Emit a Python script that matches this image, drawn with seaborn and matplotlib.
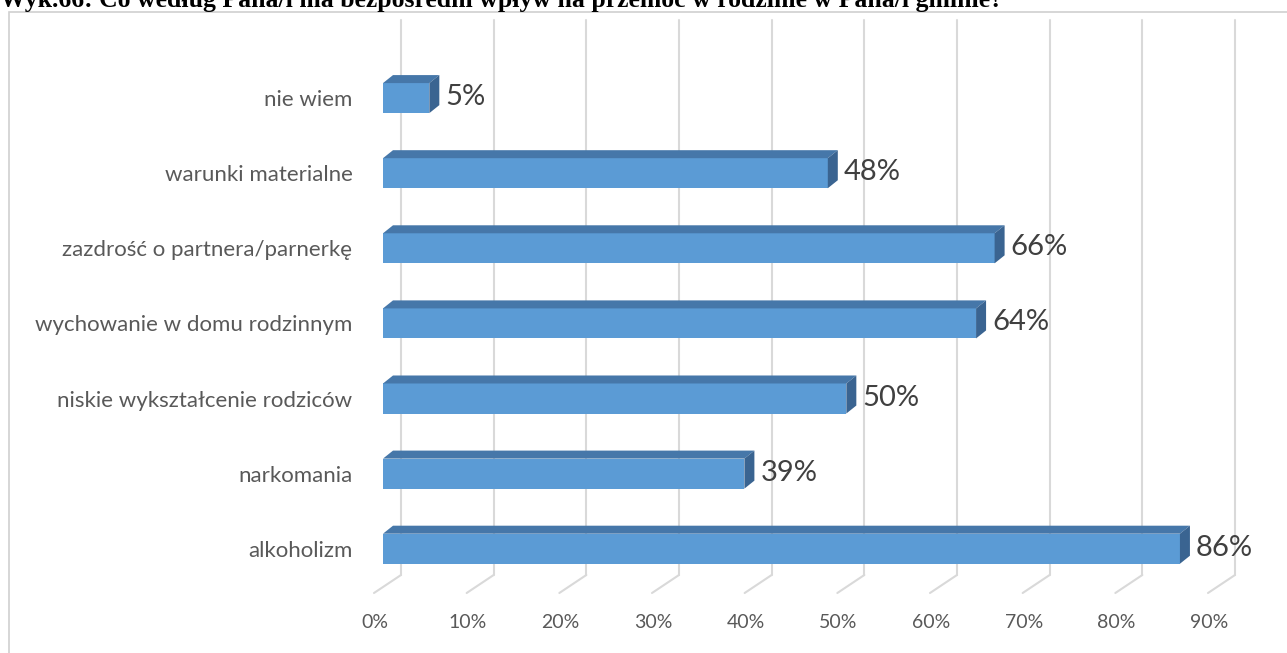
import matplotlib
matplotlib.use("Agg")
import matplotlib.pyplot as plt
import matplotlib.transforms as mtransforms
from matplotlib.patches import Polygon, Rectangle
import pandas as pd
import seaborn as sns

# chart data
categories = ["nie wiem", "warunki materialne", "zazdrość o partnera/parnerkę",
              "wychowanie w domu rodzinnym", "niskie wykształcenie rodziców",
              "narkomania", "alkoholizm"]
values = [5, 48, 66, 64, 50, 39, 86]
ticks = [0, 10, 20, 30, 40, 50, 60, 70, 80, 90]
tick_labels = [f"{t}%" for t in ticks]
title = "Wyk.66: Co według Pana/i ma bezpośredni wpływ na przemoc w rodzinie w Pana/i gminie?"

FRONT = "#5B9BD5"
TOP = "#4677A9"
SIDE = "#3A6491"
GRID = "#D9D9D9"

sns.set_style("white")
plt.rcParams["font.family"] = ["Lato", "DejaVu Sans"]

W, H = 1287, 653
fig = plt.figure(figsize=(W / 100, H / 100), dpi=100)

# outer chart border and title (title is clipped at the top edge)
fig.patches.append(Rectangle((9 / W, -0.05), 1.05, 1.05 - 12 / H,
                             transform=fig.transFigure, fill=False,
                             edgecolor="#D0D0D0", linewidth=1.2))
fig.text(0.0, 1 - 6.5 / H, title, family="Liberation Serif", weight="bold",
         fontsize=18.5, color="black", ha="left", va="baseline")

# plot area: x from 0% at px 383 to 90% at px 1217, y from px 20 to 575
ax = fig.add_axes([383 / W, 1 - 575 / H, (1217 - 383) / W, (575 - 20) / H])
df = pd.DataFrame({"cat": categories, "val": values})
sns.barplot(data=df, x="val", y="cat", orient="h", color=FRONT, saturation=1,
            width=0.40, linewidth=0, ax=ax, zorder=3)
ax.set_xlim(0, 90)
ax.set_ylim(6.35, -1.04)
for s in ax.spines.values():
    s.set_visible(False)
ax.set_xlabel("")
ax.set_ylabel("")
ax.set_xticks([])
ax.tick_params(axis="y", length=0, pad=22, labelsize=16, labelcolor="#595959")

# gridlines on the back wall with a diagonal floor segment
def shift(dx, dy):
    return mtransforms.ScaledTranslation(dx / 100, dy / 100, fig.dpi_scale_trans)

blend = mtransforms.blended_transform_factory(ax.transData, ax.transAxes)
fig.canvas.draw()
for t, lab in zip(ticks, tick_labels):
    ax.plot([t, t], [0, 1], transform=blend + shift(18, 0), color=GRID,
            lw=1.5, zorder=1, clip_on=False)
    p0 = (blend + shift(18, 0)).transform((t, 0))
    p1 = (blend + shift(-9, -18)).transform((t, 0))
    fig.lines.append(plt.Line2D([p0[0], p1[0]], [p0[1], p1[1]],
                                transform=None, color=GRID, lw=1.5, zorder=1))
    ax.text(t, 0, lab, transform=blend + shift(-8, -48), ha="center",
            va="center", fontsize=14, color="#595959")

# 3D top and side faces plus value labels
dx, dy = 10, 8
for bar, v in zip(ax.patches, values):
    (x0, y0), (x1, y1) = ax.transData.transform(
        [(bar.get_x(), bar.get_y() + bar.get_height()),
         (bar.get_x() + bar.get_width(), bar.get_y())])
    top = Polygon([(x0, y1), (x1, y1), (x1 + dx, y1 + dy), (x0 + dx, y1 + dy)],
                  closed=True, transform=None, facecolor=TOP, edgecolor="none",
                  zorder=4)
    side = Polygon([(x1, y0), (x1 + dx, y0 + dy), (x1 + dx, y1 + dy), (x1, y1)],
                   closed=True, transform=None, facecolor=SIDE, edgecolor="none",
                   zorder=4)
    fig.patches.extend([top, side])
    cy = bar.get_y() + bar.get_height() / 2
    ax.text(v, cy, f"{v}%", transform=ax.transData + shift(dx + 6, 1),
            ha="left", va="center", fontsize=21, color="#404040", zorder=5)

fig.savefig("out.png", dpi=100)
